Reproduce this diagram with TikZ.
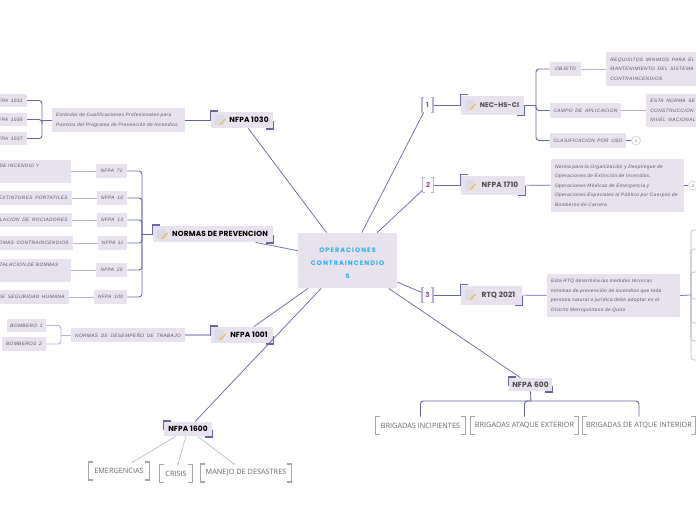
\documentclass[tikz,border=0pt]{standalone}
\usepackage{fontspec}
\setmainfont{Liberation Sans}
\newfontfamily\notefont[LetterSpace=7.5,WordSpace=1.6]{Liberation Sans}
\newfontfamily\titlefont[LetterSpace=2]{Poppins}
\newfontfamily\centerfont[LetterSpace=16]{Poppins}
\newfontfamily\plainfont{Open Sans}
\usetikzlibrary{positioning}

\definecolor{boxfill}{HTML}{E8E1EE}
\definecolor{linecol}{HTML}{6466A6}
\definecolor{lightline}{HTML}{B4B2D6}
\definecolor{notetext}{HTML}{5A5560}
\definecolor{maintext}{HTML}{2BB0ED}
\definecolor{numtext}{HTML}{8E4F96}
\definecolor{pagecol}{HTML}{D9DDE3}
\definecolor{pencilcol}{HTML}{F0B840}

\begin{document}
\begin{tikzpicture}[x=1pt, y=-1pt, thick, auto]

\useasboundingbox (0,0) rectangle (696,520);

\tikzstyle{mainbox} = [
    rectangle,rounded corners=1pt,fill=boxfill,minimum width=99,minimum height=55,align=center,text=maintext,font=\centerfont\bfseries\fontsize{6.5}{13.3}\selectfont]
\tikzstyle{topic} = [
    rectangle,fill=boxfill,inner sep=0pt,text=black,font=\titlefont\bfseries\fontsize{7.4}{9}\selectfont]
\tikzstyle{note} = [
    rectangle,fill=boxfill,inner sep=0pt,text=notetext,font=\notefont\itshape\fontsize{4.8}{9.5}\selectfont]
\tikzstyle{number} = [
    rectangle,minimum width=10,minimum height=14,inner sep=0pt,text=numtext,font=\titlefont\bfseries\fontsize{7}{8}\selectfont]
\tikzstyle{plain} = [
    rectangle,inner sep=0pt,minimum height=17,text=black!60,font=\plainfont\fontsize{7.3}{8}\selectfont]
\tikzstyle{dot} = [
    circle,draw=lightline,fill=white,thin,minimum size=9,inner sep=0pt,text=black!50,font=\fontsize{4.5}{5}\selectfont]
\tikzstyle{tree} = [draw=linecol,line width=0.9pt,rounded corners=3pt]
\tikzstyle{lighttree} = [draw=lightline,line width=0.9pt,rounded corners=3pt]
\tikzstyle{mainline} = [draw=linecol,line width=0.7pt]
\tikzstyle{thinline} = [draw=lightline,line width=0.6pt]
\tikzstyle{corner} = [draw=linecol,line width=1.7pt]
\tikzstyle{tick} = [draw=black!35,line width=1.3pt]
\tikzstyle{numtick} = [draw=lightline,line width=1.3pt]

% centre
\node[mainbox] at (347.5,260.5) (central) {\rule{0pt}{10pt}OPERACIONES\\CONTRAINCENDIO\\S};

% left side
\node[topic, minimum width=62, minimum height=16] at (242,120) (nfpa1030) {\hspace*{14pt}NFPA 1030};
\node[topic, minimum width=120, minimum height=16] at (213,234) (normas) {\hspace*{14pt}NORMAS DE PREVENCION};
\node[topic, minimum width=62, minimum height=16] at (242,335) (nfpa1001) {\hspace*{14pt}NFPA 1001};
\node[topic, minimum width=48, minimum height=14] at (188,429) (nfpa1600) {NFPA 1600};

\node[note, minimum width=133, minimum height=24, text width=125, align=left] at (118.5,120) (estandar) {Estándar de Cualificaciones Profesionales para\\Puestos del Programa de Prevención de Incendios};
\node[note, minimum height=13, anchor=east, inner xsep=4pt] at (27,100.5) (nfpa1031) {FPA 1031};
\node[note, minimum height=13, anchor=east, inner xsep=4pt] at (27,119.5) (nfpa1035) {FPA 1035};
\node[note, minimum height=13, anchor=east, inner xsep=4pt] at (27,138.5) (nfpa1037) {FPA 1037};

\node[note, minimum width=31, minimum height=14] at (111.5,171) (nfpa72) {NFPA 72};
\node[note, minimum width=30, minimum height=14] at (112,198) (nfpa10) {NFPA 10};
\node[note, minimum width=30, minimum height=14] at (112,220) (nfpa13) {NFPA 13};
\node[note, minimum width=29, minimum height=14] at (112.5,243) (nfpa11) {NFPA 11};
\node[note, minimum width=31, minimum height=14] at (111.5,270) (nfpa20) {NFPA 20};
\node[note, minimum width=33, minimum height=14] at (110.5,297) (nfpa100) {NFPA 100};

\node[note, text width=69, minimum height=23, anchor=east, inner xsep=2pt, align=left] at (71,171) (deteccion) {DE INCENDIO Y\\\mbox{}};
\node[note, minimum height=14, anchor=east, inner xsep=4pt] at (72,198) (extintores) {EXTINTORES PORTATILES};
\node[note, minimum height=14, anchor=east, inner xsep=4pt] at (72,220) (rociadores) {ALACION DE ROCIADORES};
\node[note, minimum height=14, anchor=east, inner xsep=4pt] at (73,243) (sistemas) {TOMAS CONTRAINCENDIOS};
\node[note, text width=71, minimum height=23, anchor=east, inner xsep=0pt, align=left] at (71,270) (bombas) {TALACION DE BOMBAS\\\mbox{}};
\node[note, minimum height=14, anchor=east, inner xsep=4pt] at (69,297) (seguridad) {DE SEGURIDAD HUMANA};

\node[note, minimum width=114, minimum height=14] at (128,335) (desempeno) {NORMAS DE DESEMPEÑO DE TRABAJO};
\node[note, minimum width=39, minimum height=13] at (26.5,325.5) (bombero1) {BOMBERO 1};
\node[note, minimum width=44, minimum height=14] at (24,344) (bombero2) {BOMBEROS 2};

\node[plain, minimum width=60] at (119,471) (emergencias) {EMERGENCIAS};
\node[plain, minimum width=32] at (176,473.5) (crisis) {CRISIS};
\node[plain, minimum width=90] at (246,473) (manejo) {MANEJO DE DESASTRES};
\coordinate (dota) at (133,462);
\coordinate (dotb) at (178,464);
\coordinate (dotc) at (234,464);

% right side
\node[number] at (427.5,105) (num1) {1};
\node[number] at (428,185) (num2) {2};
\node[number] at (427.5,295) (num3) {3};

\node[topic, text=black!70, minimum width=63, minimum height=19, font=\titlefont\bfseries\fontsize{6.8}{9}\selectfont] at (492.5,105) (nechs) {\hspace*{14pt}NEC-HS-CI};
\node[topic, text=black!70, minimum width=64, minimum height=19] at (493,185) (nfpa1710) {\hspace*{14pt}NFPA 1710};
\node[topic, text=black!70, minimum width=61, minimum height=19] at (491.5,295) (rtq) {\hspace*{14pt}RTQ 2021};
\node[topic, text=black!70, minimum width=43, minimum height=13] at (530.5,384.5) (nfpa600) {NFPA 600};

\node[note, minimum width=31, minimum height=14] at (565.5,69) (objeto) {OBJETO};
\node[note, minimum width=71, minimum height=15] at (585.5,110.5) (campo) {CAMPO DE APLICACION};
\node[note, minimum width=76, minimum height=15] at (588,140.5) (clasificacion) {CLASIFICACION POR USO};
\node[dot] at (636,140.5) (dot1) {1};

\node[note, minimum height=34, anchor=west, inner xsep=4pt, align=left] at (606,69) (requisitos) {REQUISITOS MINIMOS PARA EL I\\MANTENIMIENTO DEL SISTEMA\\CONTRAINCENDIOS};
\node[note, minimum height=33, anchor=west, inner xsep=4pt, align=left] at (646,110.5) (estanorma) {ESTA NORMA SE\\CONSTRUCCION D\\NIVEL NACIONAL};

\node[note, minimum width=133, minimum height=53, text width=125, align=left] at (617.5,185.5) (organizacion) {Norma para la Organización y Despliegue de\\Operaciones de Extinción de Incendios,\\Operaciones Médicas de Emergencia y\\Operaciones Especiales al Público por Cuerpos de\\Bomberos de Carrera};
\node[dot] at (693,185.5) (dot2) {2};

\node[note, minimum width=133, minimum height=43, text width=125, align=left] at (613.5,295.5) (medidas) {Esta RTQ determina las medidas técnicas\\mínimas de prevención de incendios que toda\\persona natural o jurídica debe adoptar en el\\Distrito Metropolitano de Quito};

\node[plain, minimum width=89] at (420.5,425.5) (incipientes) {BRIGADAS INCIPIENTES};
\node[plain, minimum width=107] at (524.5,425.5) (ataque) {BRIGADAS ATAQUE EXTERIOR};
\node[plain, minimum width=112] at (639,425.5) (interior) {BRIGADAS DE ATQUE INTERIOR};

% tree joints and free ends
\coordinate (treeiso) at (42,120);
\coordinate (treenormas) at (142,234);
\coordinate (treebomb) at (61,335);
\coordinate (treenec) at (536,105);
\coordinate (treertq) at (691,295);
\coordinate (treesix) at (531,401);
\coordinate (enda) at (700,230);
\coordinate (endb) at (700,249);
\coordinate (endc) at (700,272);
\coordinate (endd) at (700,299);
\coordinate (ende) at (700,323);
\coordinate (endf) at (700,360);
\coordinate (endg) at (700,341);

\path[mainline]
  (central) edge (nfpa1030)
  (central) edge (normas)
  (central) edge (nfpa1001)
  (central) edge (nfpa1600)
  (central) edge (num1)
  (central) edge (num2)
  (central) edge (num3)
  (central) edge (nfpa600)
  (num1) edge (nechs)
  (num2) edge (nfpa1710)
  (num3) edge (rtq)
  (nfpa1030) edge (estandar)
  (nfpa1710) edge (organizacion)
  (rtq) edge (medidas)
  (clasificacion) edge (dot1)
  (organizacion) edge (dot2)
;

\path[thinline]
  (objeto) edge (requisitos)
  (campo) edge (estanorma)
  (nfpa72) edge (deteccion)
  (nfpa10) edge (extintores)
  (nfpa13) edge (rociadores)
  (nfpa11) edge (sistemas)
  (nfpa20) edge (bombas)
  (nfpa100) edge (seguridad)
  (nfpa1600) edge (dota)
  (nfpa1600) edge (dotb)
  (nfpa1600) edge (dotc)
;
\path[lighttree, line width=1.4pt] (desempeno) edge (nfpa1001);

\fill[linecol] (dota) circle (0.6pt) (dotb) circle (0.6pt) (dotc) circle (0.6pt);

% trees
\draw[tree] (nfpa1031.east) -| (treeiso);
\draw[tree] (nfpa1035.east) -| (treeiso);
\draw[tree] (nfpa1037.east) -| (treeiso);
\draw[tree] (treeiso) -- (estandar.west);

\foreach \leaf in {nfpa72,nfpa10,nfpa13,nfpa11,nfpa20,nfpa100}
  \draw[tree] (\leaf.east) -| (treenormas);
\draw[tree] (treenormas) -- (normas.west);

\draw[lighttree] (bombero1.east) -| (treebomb);
\draw[lighttree] (bombero2.east) -| (treebomb);
\draw[lighttree] (treebomb) -- (desempeno.west);

\draw[tree] (nechs.east) -- (treenec);
\foreach \leaf in {objeto,campo,clasificacion}
  \draw[tree] (\leaf.west) -| (treenec);

\draw[mainline] (medidas.east) -- (treertq);
\foreach \leaf in {enda,endb,endc,endd,ende,endf,endg}
  \draw[lighttree, line width=0.6pt] (\leaf) -| (treertq);

\draw[tree] (nfpa600.south) -- (treesix);
\foreach \leaf in {incipientes,ataque,interior}
  \draw[tree] (\leaf.north) |- (treesix);

% corners of the topics
\foreach \topic in {nfpa1030,normas,nfpa1001,nfpa1600,nechs,nfpa1710,rtq,nfpa600} {
  \draw[corner] ([yshift=-1pt]\topic.west) |- ([xshift=7pt,yshift=0.5pt]\topic.north west);
  \draw[corner] ([yshift=-1pt]\topic.east) |- ([xshift=-7pt,yshift=-0.5pt]\topic.south east);
}

% note icons
\foreach \topic in {nfpa1030,normas,nfpa1001,nechs,nfpa1710,rtq} {
  \fill[pagecol] ([xshift=4pt,yshift=-5pt]\topic.west) rectangle ([xshift=13pt,yshift=5pt]\topic.west);
  \draw[pencilcol, line width=1pt] ([xshift=9pt,yshift=-5pt]\topic.west) -- ([xshift=15pt,yshift=1pt]\topic.west);
}

% brackets of the numbers
\foreach \num in {num1,num2,num3} {
  \draw[numtick] ([xshift=2pt]\num.north west) -- (\num.north west) -- (\num.south west) -- ([xshift=2pt]\num.south west);
  \draw[numtick] ([xshift=-2pt]\num.north east) -- (\num.north east) -- (\num.south east) -- ([xshift=-2pt]\num.south east);
}

% brackets of the plain labels
\foreach \lab in {emergencias,crisis,manejo,incipientes,ataque,interior} {
  \draw[tick] ([xshift=4pt]\lab.north west) -- (\lab.north west) -- (\lab.south west) -- ([xshift=4pt]\lab.south west);
  \draw[tick] ([xshift=-4pt]\lab.north east) -- (\lab.north east) -- (\lab.south east) -- ([xshift=-4pt]\lab.south east);
}

\end{tikzpicture}
\end{document}
